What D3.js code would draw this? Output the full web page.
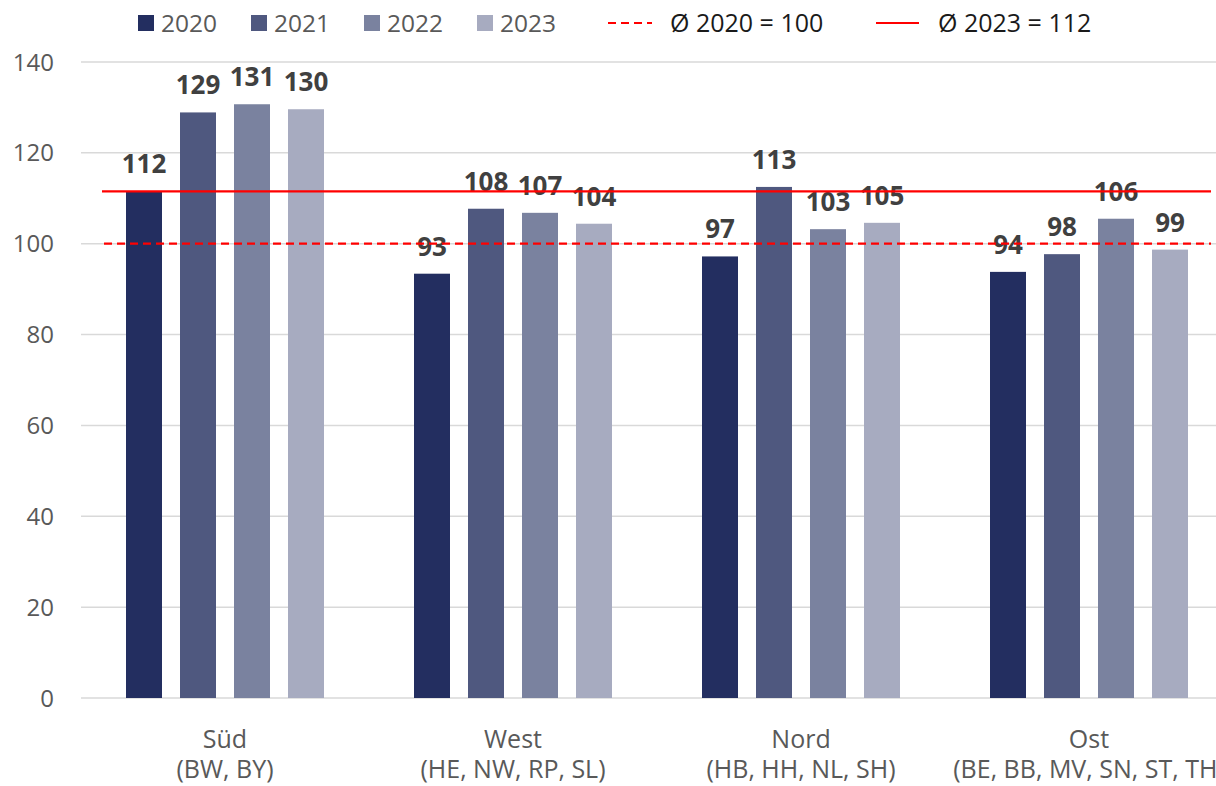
<!DOCTYPE html>
<html>
<head>
<meta charset="utf-8">
<script src="https://cdn.jsdelivr.net/npm/d3@7"></script>
<style>
  html, body { margin: 0; padding: 0; background: #fff; }
  svg { display: block; font-family: "Open Sans", "Noto Sans", sans-serif; }
</style>
</head>
<body>
<svg id="chart" width="1216" height="786"></svg>
<script>
// Regions and the Länder they group
const regions = ["Süd", "West", "Nord", "Ost"];
const regionStates = ["(BW, BY)", "(HE, NW, RP, SL)", "(HB, HH, NL, SH)", "(BE, BB, MV, SN, ST, TH)"];
const years = ["2020", "2021", "2022", "2023"];

// Index values per year, one entry per region
const values2020 = [111.6, 93.4, 97.2, 93.8];
const values2021 = [128.9, 107.7, 112.5, 97.7];
const values2022 = [130.7, 106.8, 103.2, 105.5];
const values2023 = [129.6, 104.4, 104.6, 98.7];

// Reference averages
const avg2020 = 100;
const avg2023 = 111.5;

const yTicks = [0, 20, 40, 60, 80, 100, 120, 140];

const colors = ["#232e60", "#4f587f", "#7a829f", "#a7abc0"];

const seriesValues = [values2020, values2021, values2022, values2023];
const rows = regions.map((r, i) => ({
  region: r,
  states: regionStates[i],
  vals: years.map((y, j) => ({ year: y, value: seriesValues[j][i], idx: j }))
}));

const svg = d3.select("#chart");

const x0 = d3.scaleBand().domain(regions).range([81, 1233]).padding(0);
const x1 = d3.scaleBand().domain(years).range([0, x0.bandwidth()])
  .paddingInner(1 / 3).paddingOuter(0.8333);
const y = d3.scaleLinear().domain([0, 140]).range([698, 62]);

// Gridlines
svg.append("g").selectAll("line").data(yTicks).join("line")
  .attr("x1", 81).attr("x2", 1233)
  .attr("y1", d => y(d)).attr("y2", d => y(d))
  .attr("stroke", "#d9d9d9").attr("stroke-width", 1.5);

// Y tick labels
svg.append("g").selectAll("text").data(yTicks).join("text")
  .attr("x", 54).attr("y", d => y(d) + 8.5)
  .attr("text-anchor", "end")
  .attr("font-size", 24).attr("fill", "#595959")
  .text(d => d);

// Bars
const groups = svg.append("g").selectAll("g").data(rows).join("g")
  .attr("transform", d => `translate(${x0(d.region)},0)`);

groups.selectAll("rect").data(d => d.vals).join("rect")
  .attr("x", d => x1(d.year))
  .attr("width", x1.bandwidth())
  .attr("y", d => y(d.value))
  .attr("height", d => y(0) - y(d.value))
  .attr("fill", d => colors[d.idx]);

// Reference lines
svg.append("line")
  .attr("x1", 104).attr("x2", 1211)
  .attr("y1", y(avg2020)).attr("y2", y(avg2020))
  .attr("stroke", "#ff0000").attr("stroke-width", 2.2)
  .attr("stroke-dasharray", "8,5");
svg.append("line")
  .attr("x1", 102).attr("x2", 1211)
  .attr("y1", y(avg2023)).attr("y2", y(avg2023))
  .attr("stroke", "#ff0000").attr("stroke-width", 2.2);

// Value labels
groups.selectAll("text.val").data(d => d.vals).join("text")
  .attr("class", "val")
  .attr("x", d => x1(d.year) + x1.bandwidth() / 2)
  .attr("y", d => y(d.value) - 18)
  .attr("text-anchor", "middle")
  .attr("font-size", 26).attr("font-weight", "bold").attr("fill", "#404040")
  .text(d => d3.format(".0f")(d.value));

// Category labels
const cat = svg.append("g").selectAll("text").data(rows).join("text")
  .attr("text-anchor", "middle")
  .attr("font-size", 25).attr("fill", "#595959");
cat.append("tspan")
  .attr("x", d => x0(d.region) + x0.bandwidth() / 2).attr("y", 748)
  .text(d => d.region);
cat.append("tspan")
  .attr("x", d => x0(d.region) + x0.bandwidth() / 2).attr("y", 778)
  .text(d => d.states);

// Legend
const legend = svg.append("g");
const legX = [138, 251, 364, 477];
years.forEach((yr, i) => {
  legend.append("rect").attr("x", legX[i]).attr("y", 15).attr("width", 16).attr("height", 16)
    .attr("fill", colors[i]);
  legend.append("text").attr("x", legX[i] + 23).attr("y", 32)
    .attr("font-size", 24.5).attr("fill", "#595959").text(yr);
});
legend.append("line").attr("x1", 608).attr("x2", 652).attr("y1", 23).attr("y2", 23)
  .attr("stroke", "#ff0000").attr("stroke-width", 2.2).attr("stroke-dasharray", "8,5");
legend.append("text").attr("x", 670).attr("y", 32)
  .attr("font-size", 25).attr("fill", "#1a1a1a")
  .text(`Ø 2020 = ${d3.format(".0f")(avg2020)}`);
legend.append("line").attr("x1", 876).attr("x2", 919).attr("y1", 23).attr("y2", 23)
  .attr("stroke", "#ff0000").attr("stroke-width", 2.2);
legend.append("text").attr("x", 938).attr("y", 32)
  .attr("font-size", 25).attr("fill", "#1a1a1a")
  .text(`Ø 2023 = ${d3.format(".0f")(avg2023)}`);
</script>
</body>
</html>
